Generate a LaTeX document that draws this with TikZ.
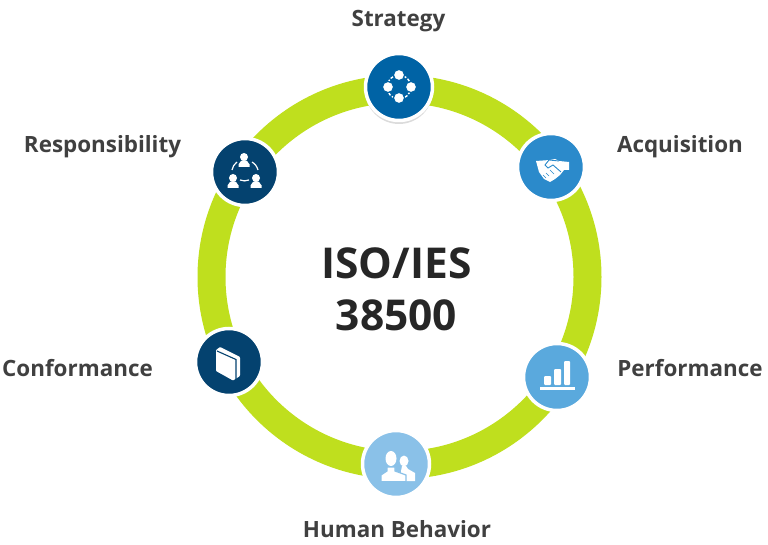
\documentclass[tikz,border=0pt]{standalone}
\usepackage{fontspec}
\setmainfont{Open Sans}
\definecolor{ringgreen}{HTML}{BFDF1E}
\definecolor{txtgrey}{HTML}{404040}
\definecolor{txtdark}{HTML}{262626}
\definecolor{hubblue}{HTML}{0063A5}
\definecolor{hubnavy}{HTML}{04426F}
\definecolor{hubmid}{HTML}{2B8ACB}
\definecolor{hubsky}{HTML}{5AA9DD}
\definecolor{hubpale}{HTML}{8AC1E8}
\tikzset{
  hub/.style={circle, draw=white, line width=3.5pt, minimum size=67pt, inner sep=0pt},
  lbl/.style={font=\fontsize{22.4}{26}\selectfont\bfseries, text=txtgrey, inner sep=0pt, anchor=base},
  icon/.style={fill=white, draw=none},
  arcline/.style={white, line width=1.2pt},
}
% small person: head at #1,#2 with shoulders below
\newcommand{\bust}[2]{
  \fill[white] (#1,#2) circle (4);
  \fill[white] (#1-5.5,#2+10) -- (#1-5.5,#2+7) to[out=-90,in=180] (#1-2,#2+3.5) -- (#1+2,#2+3.5)
    to[out=0,in=-90] (#1+5.5,#2+7) -- (#1+5.5,#2+10) -- cycle;
}
\begin{document}
\begin{tikzpicture}[x=1pt,y=-1pt]
\useasboundingbox (0,0) rectangle (768,545);
\coordinate (mid) at (399.5,277);
\draw[ringgreen, line width=28pt] (mid) circle (188);
\fill[black!14] (399,90) circle (34);
\node[hub, fill=hubblue] (strategy) at (399,87) {};
\node[hub, fill=hubmid] (acquisition) at (551,167) {};
\node[hub, fill=hubsky] (performance) at (557,377) {};
\node[hub, fill=hubpale] (human) at (396,464) {};
\node[hub, fill=hubnavy] (conformance) at (229,362) {};
\node[hub, fill=hubnavy] (responsibility) at (245,172) {};
\node[lbl] (lstrategy) at (398.5,26.5) {Strategy};
\node[lbl] (lacquisition) at (680,153) {Acquisition};
\node[lbl] (lperformance) at (690,376) {Performance};
\node[lbl] (lhuman) at (397,537) {Human Behavior};
\node[lbl] (lconformance) at (77.5,376) {Conformance};
\node[lbl] (lresponsibility) at (102.5,153) {Responsibility};
\node[font=\fontsize{42.5}{52}\selectfont\bfseries, text=txtdark, align=center, inner sep=0pt] (title) at (396.5,289.5) {ISO/IES\\38500};
% strategy icon
\begin{scope}[shift={(strategy)}]
  \draw[white, line width=1.4pt, dash pattern=on 3pt off 1.7pt] (0,0) circle (12);
  \foreach \a/\b in {0/-12,0/11,-11/0,12/0}
    \fill[white, draw=hubblue, line width=1.2pt] (\a,\b) circle (5.6);
\end{scope}
% responsibility icon
\begin{scope}[shift={(responsibility)}]
  \bust{-1}{-15}
  \bust{-12}{6}
  \bust{11}{6}
  \draw[arcline] (-13,-2) to[bend left=20] (-8,-10);
  \draw[arcline] (7,-10) to[bend left=20] (13,-2);
  \draw[arcline] (-5,8) to[bend right=20] (4,8);
\end{scope}
% acquisition icon
\begin{scope}[shift={(acquisition)}]
  \fill[icon] (-15,-6) -- (-1,-7) -- (4,-8) -- (8,-6) -- (18,-5) -- (18,3) -- (13,3) -- (9,8)
    -- (4,12) -- (-1,15) -- (-7,12) -- (-12,5) -- cycle;
  \draw[hubmid, line width=.9pt] (8,-6) -- (-2,-7) -- (-6,-2) -- (-3,1) -- (2,-2) -- (10,5);
  \draw[hubmid, line width=.6pt] (-5,6) -- (-2,9) (-1,3) -- (3,7) (-8,8) -- (-5,11);
\end{scope}
% conformance icon
\begin{scope}[shift={(conformance)}]
  \fill[icon, rounded corners=.8pt] (-13,-12) -- (-9,-15) -- (11,-5) -- (11,14) -- (4,18.5) -- (-13,9) -- cycle;
  \draw[hubnavy, line width=1.1pt] (-12,-11) -- (7,-2.5) -- (7,20);
\end{scope}
% performance icon
\begin{scope}[shift={(performance)}]
  \foreach \a/\b/\c in {-13/-1/-6,-3/-8/4,7/-16/13}
    \fill[icon, rounded corners=1pt] (\a,\b) rectangle (\c,8);
  \fill[icon] (-17,10) rectangle (18,13);
\end{scope}
% human behavior icon
\begin{scope}[shift={(human)}]
  \fill[icon] (8,-3) ellipse (4.5 and 5.5);
  \fill[icon] (5,17) -- (5,7) -- (6,2) -- (10,2) -- (12,5) -- (19,9) -- (19,17) -- cycle;
  \fill[icon, draw=hubpale, line width=1.2pt] (-15,17.6) -- (-15,11) -- (-9,7) -- (-9,3) -- (-1,3) -- (-1,7) -- (10,11) -- (10,17.6) -- cycle;
  \fill[icon] (-5,-5.5) ellipse (5.5 and 7.5);
\end{scope}
\end{tikzpicture}
\end{document}
